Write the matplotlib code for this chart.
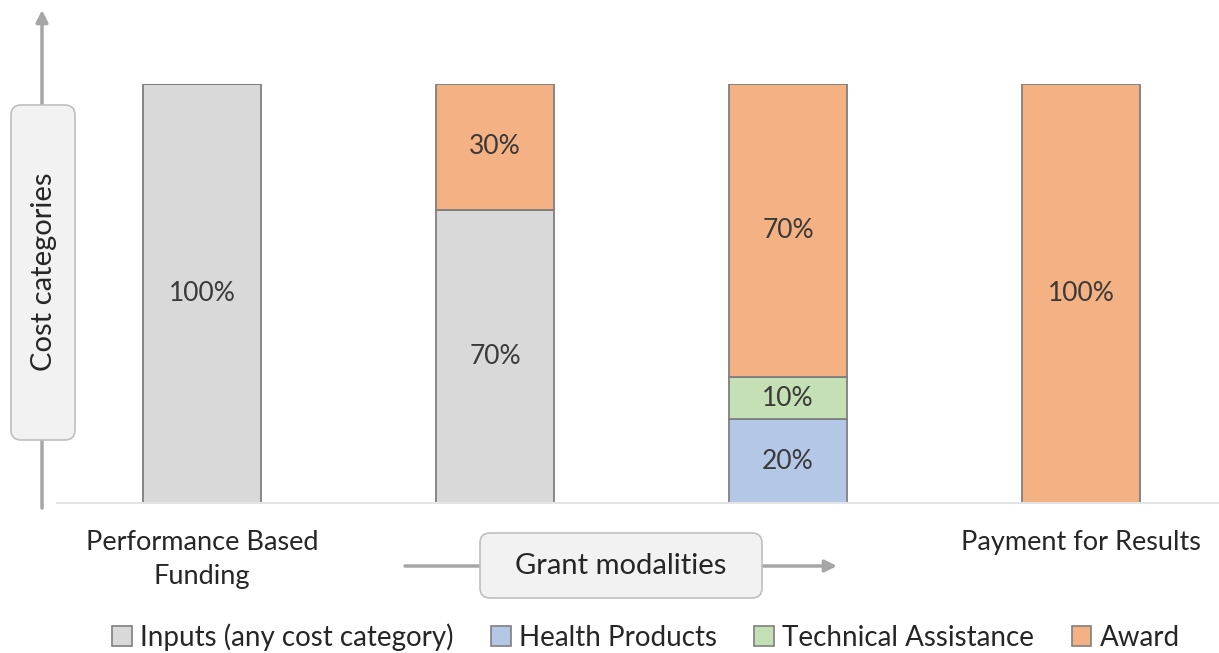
import matplotlib.pyplot as plt
from matplotlib.patches import FancyBboxPatch, Patch

# data
modalities = ['Performance Based\nFunding', '', '', 'Payment for Results']
segments = ['Inputs (any cost category)', 'Health Products', 'Technical Assistance', 'Award']
inputs = [100, 70, 0, 0]
health = [0, 0, 20, 0]
tech = [0, 0, 10, 0]
award = [0, 30, 70, 100]

colors = ['#d9d9d9', '#b4c7e7', '#c5e0b4', '#f4b183']
edge = '#7f7f7f'
txt = '#3a3a3a'
arrow_col = '#a6a6a6'
font = 'Lato'

W, H = 1219, 653
fig = plt.figure(figsize=(W / 100, H / 100), dpi=100)

# bar axes: baseline at y=503px, 100% at y=84px, first bar centred at x=202px
ax = fig.add_axes([57 / W, (H - 503) / H, (W - 57) / W, 419 / H])
x = list(range(len(modalities)))
bottom = [0] * len(x)
for vals, c in zip([inputs, health, tech, award], colors):
    ax.bar(x, vals, width=0.403, bottom=bottom, color=c,
           edgecolor=edge, linewidth=1.3)
    for i, v in enumerate(vals):
        if v > 0:
            ax.text(i, bottom[i] + v / 2, f'{v}%', ha='center', va='center',
                    fontsize=19, color=txt, family=font)
    bottom = [b + v for b, v in zip(bottom, vals)]

ax.set_xlim(-0.495, 3.471)
ax.set_ylim(0, 100)
ax.set_yticks([])
ax.set_xticks([])
for s in ['top', 'right', 'left']:
    ax.spines[s].set_visible(False)
ax.spines['bottom'].set_color('#e3e3e3')
ax.spines['bottom'].set_linewidth(1.5)

for i, lab in enumerate(modalities):
    if lab:
        ax.text(i, -6.5, lab, ha='center', va='top', fontsize=19.5,
                color='#262626', family=font, linespacing=1.45, clip_on=False)

# overlay in pixel coords for arrows and boxes
ov = fig.add_axes([0, 0, 1, 1], zorder=5)
ov.set_xlim(0, W)
ov.set_ylim(H, 0)
ov.axis('off')

arrow = dict(arrowstyle='-|>,head_width=0.35,head_length=0.7',
             color=arrow_col, lw=2.5, shrinkA=0, shrinkB=0)
ov.annotate('', xy=(42, 10), xytext=(42, 508), arrowprops=arrow, zorder=1)
ov.annotate('', xy=(837, 566), xytext=(405, 566), arrowprops=arrow, zorder=1)

ov.add_patch(FancyBboxPatch((11, 105), 64, 335,
                            boxstyle='round,pad=0,rounding_size=10',
                            facecolor='#f2f2f2', edgecolor='#bfbfbf', lw=1.2,
                            zorder=2))
ov.text(44, 272, 'Cost categories', rotation=90, ha='center', va='center',
        fontsize=21, color='#262626', family=font, zorder=3)

ov.add_patch(FancyBboxPatch((480, 533), 282, 65,
                            boxstyle='round,pad=0,rounding_size=10',
                            facecolor='#f2f2f2', edgecolor='#bfbfbf', lw=1.2,
                            zorder=2))
ov.text(621, 566, 'Grant modalities', ha='center', va='center',
        fontsize=21, color='#262626', family=font, zorder=3)

handles = [Patch(facecolor=c, edgecolor=edge, lw=1.2) for c in colors]
fig.legend(handles, segments, loc='center', bbox_to_anchor=(646 / W, 1 - 637 / H),
           ncol=4, frameon=False, handlelength=0.7, handleheight=0.7,
           handletextpad=0.3, columnspacing=1.35,
           prop={'family': font, 'size': 20}, labelcolor='#262626')

fig.savefig('out.png', dpi=100)
